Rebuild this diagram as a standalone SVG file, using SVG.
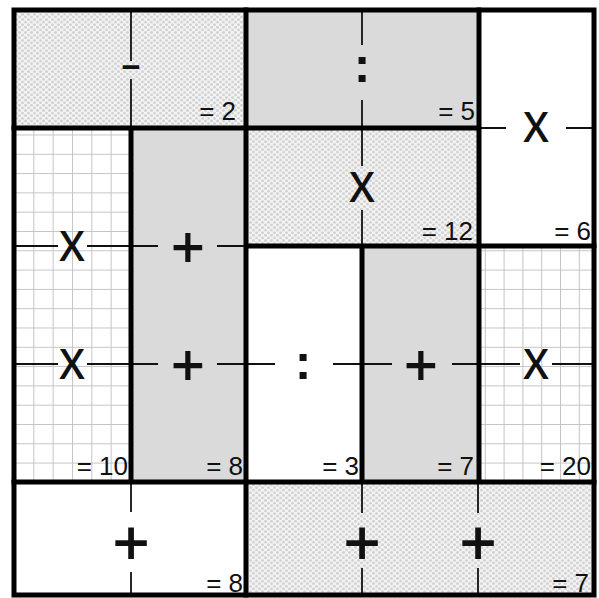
<svg xmlns="http://www.w3.org/2000/svg" width="599" height="598" viewBox="0 0 599 598">
<defs>
<pattern id="stip" patternUnits="userSpaceOnUse" width="6" height="5.2">
<rect width="6" height="5.2" fill="#f3f3f3"/>
<circle cx="1.5" cy="1.3" r="1.4" fill="#d0d0d0"/>
<circle cx="4.5" cy="3.9" r="1.4" fill="#d0d0d0"/>
</pattern>
<pattern id="gridD" patternUnits="userSpaceOnUse" x="14" y="134.5" width="19.33" height="19.3">
<rect width="19.33" height="19.3" fill="#ffffff"/>
<path d="M0.5 0V19.3M0 0.5H19.33" stroke="#c4c4c4" stroke-width="1" fill="none"/>
</pattern>
<pattern id="gridI" patternUnits="userSpaceOnUse" x="466" y="134.5" width="18.8" height="19.3">
<rect width="18.8" height="19.3" fill="#ffffff"/>
<path d="M0.5 0V19.3M0 0.5H18.8" stroke="#c4c4c4" stroke-width="1" fill="none"/>
</pattern>
</defs>
<style>
.stip{fill:url(#stip)}
.gray{fill:#dadada}
.white{fill:#ffffff}
.thin{stroke:#111;stroke-width:1.8;fill:none}
.thick{stroke:#000;stroke-width:5;fill:none;stroke-linecap:square}
.lbl{font-family:"Liberation Sans",Arial,sans-serif;font-size:26px;fill:#111;text-anchor:end}
.op{font-family:"Open Sans","Liberation Sans",Arial,sans-serif;fill:#111;text-anchor:middle;font-weight:600}
.x{font-size:41px}
.plus{font-size:60px}
.plusL{font-size:66px}
.colon{font-size:50px;font-family:"Liberation Sans",Arial,sans-serif;font-weight:bold}
.minus{font-size:33px;font-family:"Liberation Sans",Arial,sans-serif;font-weight:bold}
</style>
<rect width="599" height="598" fill="#ffffff"/>
<g id="cageA">
<rect x="14" y="10" width="232" height="118" class="stip"/>
<path class="thin" d="M131 10V61M131 79V128"/>
<text class="op minus" x="131" y="78">−</text>
<text class="lbl" x="236" y="120">= 2</text>
</g>
<g id="cageB">
<rect x="246" y="10" width="233" height="118" class="gray"/>
<path class="thin" d="M362 10V45M362 100V128"/>
<text class="op colon" x="362" y="82">:</text>
<text class="lbl" x="475" y="120">= 5</text>
</g>
<g id="cageC">
<rect x="479" y="10" width="115" height="236" class="white"/>
<path class="thin" d="M479 128H506M566 128H594"/>
<text class="op x" x="536" y="142">X</text>
<text class="lbl" x="591" y="240">= 6</text>
</g>
<g id="cageD">
<rect x="14" y="128" width="117" height="354" fill="url(#gridD)"/>
<path class="thin" d="M14 246H58M87 246H131M14 364H58M87 364H131"/>
<text class="op x" x="72" y="261">X</text>
<text class="op x" x="72" y="379">X</text>
<text class="lbl" x="128" y="475">= 10</text>
</g>
<g id="cageE">
<rect x="131" y="128" width="115" height="354" class="gray"/>
<path class="thin" d="M131 246H158M217 246H246M131 364H158M217 364H246"/>
<text class="op plus" x="188" y="269">+</text>
<text class="op plus" x="188" y="387">+</text>
<text class="lbl" x="243" y="475">= 8</text>
</g>
<g id="cageF">
<rect x="246" y="128" width="233" height="118" class="stip"/>
<path class="thin" d="M362 128V166M362 210V246"/>
<text class="op x" x="362" y="202">X</text>
<text class="lbl" x="473" y="240">= 12</text>
</g>
<g id="cageG">
<rect x="246" y="246" width="116" height="236" class="white"/>
<path class="thin" d="M246 364H275M333 364H362"/>
<text class="op colon" x="303" y="379">:</text>
<text class="lbl" x="359" y="475">= 3</text>
</g>
<g id="cageH">
<rect x="362" y="246" width="117" height="236" class="gray"/>
<path class="thin" d="M362 364H392M452 364H479"/>
<text class="op plus" x="421" y="387">+</text>
<text class="lbl" x="474" y="475">= 7</text>
</g>
<g id="cageI">
<rect x="479" y="246" width="115" height="236" fill="url(#gridI)"/>
<path class="thin" d="M479 364H520M552 364H594"/>
<text class="op x" x="536" y="379">X</text>
<text class="lbl" x="591" y="475">= 20</text>
</g>
<g id="cageJ">
<rect x="14" y="482" width="232" height="113" class="white"/>
<path class="thin" d="M131 482V512M131 572V595"/>
<text class="op plusL" x="131" y="566">+</text>
<text class="lbl" x="243" y="592">= 8</text>
</g>
<g id="cageK">
<rect x="246" y="482" width="348" height="113" class="stip"/>
<path class="thin" d="M362 482V513M362 568V595M478 482V513M478 568V595"/>
<text class="op plusL" x="362" y="566">+</text>
<text class="op plusL" x="478" y="566">+</text>
<text class="lbl" x="589" y="592">= 7</text>
</g>
<g id="borders">
<rect class="thick" x="14" y="10" width="580" height="585" stroke-linecap="butt"/>
<path class="thick" d="M14 128H479M246 10V128M479 10V246M131 128V482M246 128V482M246 246H594M362 246V482M479 246V482M14 482H594M246 482V595"/>
</g>
</svg>
